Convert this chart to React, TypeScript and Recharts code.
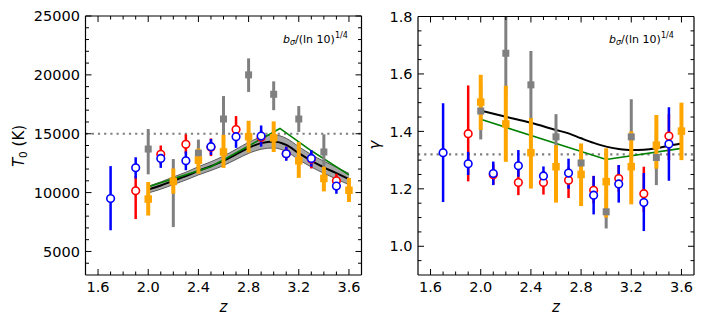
import React from 'react';
import { ComposedChart, XAxis, YAxis, Line, Area, Scatter, ErrorBar, ReferenceLine } from 'recharts';

const FONT = '"DejaVu Sans", Verdana, sans-serif';

// ---- tick values ----
const zTicks = [1.6, 1.7, 1.8, 1.9, 2.0, 2.1, 2.2, 2.3, 2.4, 2.5, 2.6, 2.7, 2.8, 2.9, 3.0, 3.1, 3.2, 3.3, 3.4, 3.5, 3.6];
const zMajor = [1.6, 2.0, 2.4, 2.8, 3.2, 3.6];
const t0Ticks = [4000, 5000, 6000, 7000, 8000, 9000, 10000, 11000, 12000, 13000, 14000, 15000, 16000, 17000, 18000, 19000, 20000, 21000, 22000, 23000, 24000, 25000];
const t0Major = [5000, 10000, 15000, 20000, 25000];
const gTicks = [0.95, 1.0, 1.05, 1.1, 1.15, 1.2, 1.25, 1.3, 1.35, 1.4, 1.45, 1.5, 1.55, 1.6, 1.65, 1.7, 1.75, 1.8];
const gMajor = [1.0, 1.2, 1.4, 1.6, 1.8];

const refT0 = 15000;
const refGamma = 1.32;

// ---- redshift grids of the measurements ----
const zBlue = [1.7, 1.9, 2.1, 2.3, 2.5, 2.7, 2.9, 3.1, 3.3, 3.5];
const zRed = [1.9, 2.1, 2.3, 2.5, 2.7, 2.9, 3.1, 3.3, 3.5];
const zGray = [2.0, 2.2, 2.4, 2.6, 2.8, 3.0, 3.2, 3.4];
const zOrange = [2.0, 2.2, 2.4, 2.6, 2.8, 3.0, 3.2, 3.4, 3.6];

// ---- T0 measurements ----
const t0Blue = [9500, 12100, 12900, 12700, 13900, 14750, 14800, 13300, 12900, 10550];
const t0BlueLo = [6800, 11200, 12100, 11900, 13200, 13800, 13900, 12700, 12200, 9900];
const t0BlueHi = [12250, 13000, 13600, 13500, 14550, 15400, 15700, 13900, 13600, 11050];

const t0Red = [10150, 13250, 14100, 13850, 15350, 14700, 13300, 12850, 11000];
const t0RedLo = [7750, 12400, 13300, 13100, 14600, 14100, 12800, 12050, 10500];
const t0RedHi = [11400, 14000, 14950, 14600, 16500, 15300, 13900, 13500, 11600];

const t0Gray = [13700, 10950, 13350, 16250, 20000, 18350, 16250, 13450];
const t0GrayLo = [11550, 7070, 12300, 14400, 18550, 17000, 15150, 12100];
const t0GrayHi = [15400, 12850, 14500, 18200, 21400, 19450, 17350, 14950];

const t0Orange = [9450, 10950, 12750, 13450, 14750, 14650, 12700, 11200, 10200];
const t0OrangeLo = [8050, 9900, 11600, 12100, 13400, 13450, 11250, 10100, 9200];
const t0OrangeHi = [10900, 12050, 13750, 14900, 16100, 16050, 14300, 12200, 11250];

// ---- T0 model curves ----
const zModel = [2.0, 2.1, 2.2, 2.3, 2.4, 2.5, 2.6, 2.7, 2.8, 2.9, 3.0, 3.1, 3.2, 3.3, 3.4, 3.5, 3.6];
const t0Model = [10250, 10600, 11000, 11400, 11850, 12250, 12700, 13250, 13800, 14200, 14350, 14050, 13350, 12700, 12150, 11650, 11150];
const t0ModelLo = [9970, 10290, 10680, 11070, 11500, 11880, 12300, 12820, 13330, 13680, 13790, 13490, 12800, 12170, 11640, 11150, 10670];
const t0ModelHi = [10530, 10910, 11320, 11730, 12200, 12620, 13100, 13680, 14270, 14720, 14910, 14610, 13900, 13230, 12660, 12150, 11630];

const zGreenT0 = [2.0, 2.5, 2.9, 3.05, 3.3, 3.6];
const t0Green = [10500, 12200, 14550, 15450, 13550, 11500];

// ---- gamma measurements ----
const gBlue = [1.326, 1.287, 1.253, 1.28, 1.245, 1.255, 1.178, 1.217, 1.152, 1.356];
const gBlueLo = [1.154, 1.248, 1.213, 1.242, 1.21, 1.2, 1.111, 1.152, 1.053, 1.228];
const gBlueHi = [1.498, 1.329, 1.295, 1.335, 1.278, 1.305, 1.245, 1.283, 1.255, 1.484];

const gRed = [1.392, 1.249, 1.222, 1.222, 1.23, 1.195, 1.236, 1.183, 1.384];
const gRedLo = [1.226, 1.215, 1.178, 1.18, 1.168, 1.15, 1.19, 1.12, 1.3];
const gRedHi = [1.56, 1.285, 1.265, 1.262, 1.275, 1.245, 1.282, 1.277, 1.46];

const gGray = [1.471, 1.672, 1.562, 1.381, 1.29, 1.12, 1.381, 1.309];
const gGrayLo = [1.372, 1.52, 1.44, 1.3, 1.25, 1.062, 1.3, 1.213];
const gGrayHi = [1.56, 1.8, 1.68, 1.46, 1.33, 1.18, 1.512, 1.4];

const gOrange = [1.502, 1.426, 1.326, 1.277, 1.25, 1.225, 1.277, 1.352, 1.401];
const gOrangeLo = [1.405, 1.294, 1.201, 1.152, 1.14, 1.1, 1.146, 1.27, 1.3];
const gOrangeHi = [1.597, 1.559, 1.446, 1.352, 1.358, 1.341, 1.4, 1.457, 1.5];

// ---- gamma model curves ----
const zModelG = [2.0, 2.2, 2.4, 2.6, 2.7, 2.8, 2.9, 3.0, 3.1, 3.2, 3.3, 3.4, 3.5, 3.6];
const gModel = [1.472, 1.451, 1.43, 1.405, 1.393, 1.376, 1.36, 1.347, 1.339, 1.335, 1.336, 1.341, 1.35, 1.358];
const zGreenG = [2.0, 3.0, 3.6];
const gGreen = [1.442, 1.302, 1.341];

const pts = (z: number[], v: number[], lo: number[], hi: number[]) =>
  z.map((x, i) => ({ z: x, v: v[i], err: [v[i] - lo[i], hi[i] - v[i]] }));
const curve = (z: number[], v: number[]) => z.map((x, i) => ({ z: x, v: v[i] }));
const band = (z: number[], lo: number[], hi: number[]) => z.map((x, i) => ({ z: x, r: [lo[i], hi[i]] }));

const COL = { blue: '#0000ff', red: '#ff0000', gray: '#808080', orange: '#ffa500', green: '#008000' };

const isMajor = (v: number, majors: number[]) => majors.some(m => Math.abs(m - v) < 1e-6);

const makeTick = (side: string, majors: number[], fmt?: (v: number) => string) => (props: any) => {
  const { x, y, payload } = props;
  const v = payload.value;
  const major = isMajor(v, majors);
  const len = major ? 6 : 3.5;
  let x2 = x, y2 = y;
  if (side === 'bottom') y2 = y - len;
  if (side === 'top') y2 = y + len;
  if (side === 'left') x2 = x + len;
  if (side === 'right') x2 = x - len;
  return (
    <g>
      <line x1={x} y1={y} x2={x2} y2={y2} stroke="#000" strokeWidth={1} />
      {major && fmt && side === 'bottom' && (
        <text x={x} y={y + 17} textAnchor="middle" fontSize={14.5} fontFamily={FONT} fill="#000">{fmt(v)}</text>
      )}
      {major && fmt && side === 'left' && (
        <text x={x - 5.5} y={y} dy="0.36em" textAnchor="end" fontSize={14.5} fontFamily={FONT} fill="#000">{fmt(v)}</text>
      )}
    </g>
  );
};

const circle = (color: string) => (p: any) => (
  <circle cx={p.cx} cy={p.cy} r={3.8} fill="#fff" stroke={color} strokeWidth={1.6} />
);
const square = (color: string, s: number) => (p: any) => (
  <rect x={p.cx - s / 2} y={p.cy - s / 2} width={s} height={s} fill={color} />
);

const axisLine = { stroke: '#000', strokeWidth: 1.2 };

const Frame = (domainY: number[], ticksY: number[], majorY: number[], fmtY: (v: number) => string) => [
  <XAxis key="xb" dataKey="z" type="number" domain={[1.5, 3.7]} allowDataOverflow ticks={zTicks} interval={0}
    tickSize={0} tickMargin={0} height={30} axisLine={axisLine} tickLine={false}
    tick={makeTick('bottom', zMajor, v => v.toFixed(1))} />,
  <XAxis key="xt" xAxisId="t" orientation="top" dataKey="z" type="number" domain={[1.5, 3.7]} allowDataOverflow
    ticks={zTicks} interval={0} tickSize={0} tickMargin={0} height={1} axisLine={axisLine} tickLine={false}
    tick={makeTick('top', zMajor)} />,
  <YAxis key="yl" type="number" domain={domainY} allowDataOverflow ticks={ticksY} interval={0}
    tickSize={0} tickMargin={0} width={1} axisLine={axisLine} tickLine={false}
    tick={makeTick('left', majorY, fmtY)} />,
  <YAxis key="yr" yAxisId="r" orientation="right" type="number" domain={domainY} allowDataOverflow ticks={ticksY}
    interval={0} tickSize={0} tickMargin={0} width={1} axisLine={axisLine} tickLine={false}
    tick={makeTick('right', majorY)} />,
];

const series = (
  gray: any[], orange: any[], red: any[], blue: any[]
) => [
  <Scatter key="sg" data={gray} dataKey="v" shape={square(COL.gray, 7)} isAnimationActive={false}>
    <ErrorBar dataKey="err" direction="y" width={0} stroke={COL.gray} strokeWidth={3} />
  </Scatter>,
  <Scatter key="so" data={orange} dataKey="v" shape={square(COL.orange, 7.5)} isAnimationActive={false}>
    <ErrorBar dataKey="err" direction="y" width={0} stroke={COL.orange} strokeWidth={4} />
  </Scatter>,
  <Scatter key="sr" data={red} dataKey="v" shape={circle(COL.red)} isAnimationActive={false}>
    <ErrorBar dataKey="err" direction="y" width={0} stroke={COL.red} strokeWidth={2.5} />
  </Scatter>,
  <Scatter key="sb" data={blue} dataKey="v" shape={circle(COL.blue)} isAnimationActive={false}>
    <ErrorBar dataKey="err" direction="y" width={0} stroke={COL.blue} strokeWidth={2.5} />
  </Scatter>,
];

const Annot = ({ x }: { x: number }) => (
  <text x={x} y={42.5} fontSize={11} fontFamily={FONT} fill="#000">
    <tspan fontStyle="italic">b</tspan>
    <tspan fontStyle="italic" fontSize={8} dy={2.5}>σ</tspan>
    <tspan dy={-2.5}>/(ln 10)</tspan>
    <tspan fontSize={8} dy={-4.5}>1/4</tspan>
  </text>
);

export default function App() {
  return (
    <div style={{ position: 'absolute', left: 0, top: 0, width: 706, height: 327, background: '#fff' }}>
      <div style={{ position: 'absolute', left: 0, top: 0 }}>
        <ComposedChart width={370} height={327} margin={{ top: 15, right: 7.5, bottom: 22, left: 84.5 }}>
          {Frame([3000, 25000], t0Ticks, t0Major, v => String(v))}
          <ReferenceLine y={refT0} stroke="#808080" strokeWidth={2.2} strokeDasharray="2.2 4" />
          <Area data={band(zModel, t0ModelLo, t0ModelHi)} dataKey="r" type="monotone" fill="#a6a6a6" fillOpacity={1}
            stroke="#5a5a5a" strokeWidth={1} isAnimationActive={false} />
          <Line data={curve(zModel, t0Model)} dataKey="v" type="monotone" stroke="#000" strokeWidth={2} dot={false}
            isAnimationActive={false} />
          <Line data={curve(zGreenT0, t0Green)} dataKey="v" type="linear" stroke={COL.green} strokeWidth={1.6}
            dot={false} isAnimationActive={false} />
          {series(pts(zGray, t0Gray, t0GrayLo, t0GrayHi), pts(zOrange, t0Orange, t0OrangeLo, t0OrangeHi),
            pts(zRed, t0Red, t0RedLo, t0RedHi), pts(zBlue, t0Blue, t0BlueLo, t0BlueHi))}
        </ComposedChart>
      </div>
      <div style={{ position: 'absolute', left: 370, top: 0 }}>
        <ComposedChart width={336} height={327} margin={{ top: 15.5, right: 11, bottom: 22, left: 47 }}>
          {Frame([0.9, 1.8], gTicks, gMajor, v => v.toFixed(1))}
          <ReferenceLine y={refGamma} stroke="#808080" strokeWidth={2.2} strokeDasharray="2.2 4" />
          <Line data={curve(zModelG, gModel)} dataKey="v" type="monotone" stroke="#000" strokeWidth={2} dot={false}
            isAnimationActive={false} />
          <Line data={curve(zGreenG, gGreen)} dataKey="v" type="linear" stroke={COL.green} strokeWidth={1.6}
            dot={false} isAnimationActive={false} />
          {series(pts(zGray, gGray, gGrayLo, gGrayHi), pts(zOrange, gOrange, gOrangeLo, gOrangeHi),
            pts(zRed, gRed, gRedLo, gRedHi), pts(zBlue, gBlue, gBlueLo, gBlueHi))}
        </ComposedChart>
      </div>
      <svg width={706} height={327} style={{ position: 'absolute', left: 0, top: 0, pointerEvents: 'none' }}>
        <text x={19} y={146} transform="rotate(-90 19 146)" textAnchor="middle" dy="0.35em" fontSize={15}
          fontFamily={FONT} fill="#000">
          <tspan fontStyle="italic">T</tspan>
          <tspan fontSize={10.5} dy={3}>0</tspan>
          <tspan dy={-3}> (K)</tspan>
        </text>
        <text x={375} y={145} transform="rotate(-90 375 145)" textAnchor="middle" dy="0.35em" fontSize={15}
          fontFamily={FONT} fontStyle="italic" fill="#000">γ</text>
        <text x={223.5} y={312} textAnchor="middle" fontSize={15} fontFamily={FONT} fontStyle="italic" fill="#000">z</text>
        <text x={556} y={312} textAnchor="middle" fontSize={15} fontFamily={FONT} fontStyle="italic" fill="#000">z</text>
        <Annot x={283} />
        <Annot x={609} />
      </svg>
    </div>
  );
}
